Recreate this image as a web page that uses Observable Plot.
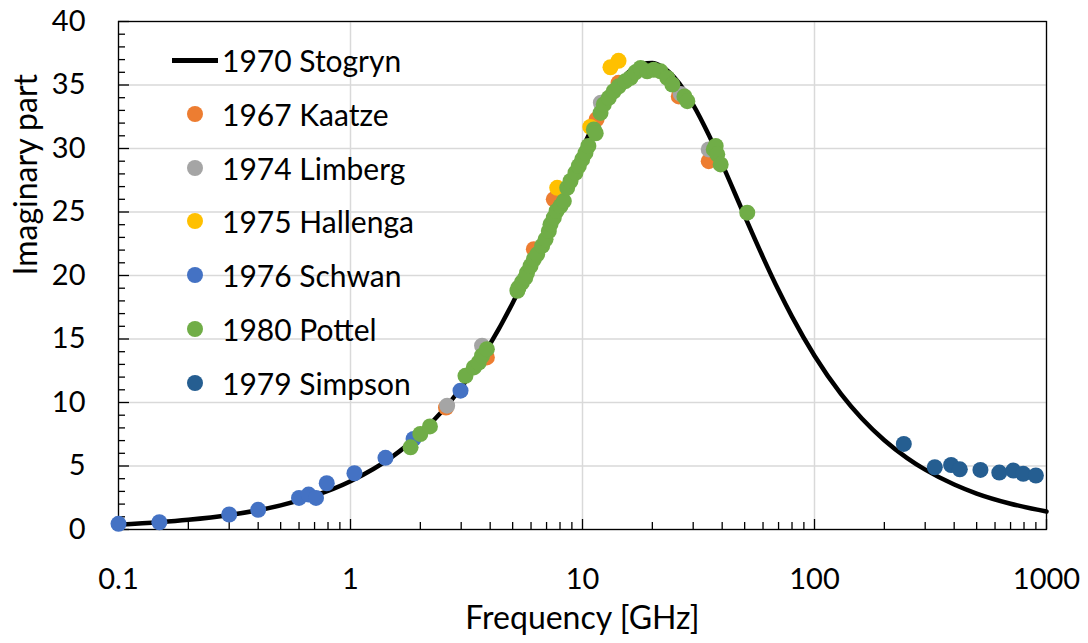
<!DOCTYPE html>
<html>
<head>
<meta charset="utf-8">
<script src="https://cdn.jsdelivr.net/npm/d3@7"></script>
<script src="https://cdn.jsdelivr.net/npm/@observablehq/plot@0.6"></script>
<style>
  html, body { margin: 0; padding: 0; background: #fff; }
  #wrap { position: relative; width: 1088px; height: 643px; font-family: Lato, "Open Sans", sans-serif; }
  #legend { position: absolute; left: 0; top: 0; }
  .row { position: absolute; left: 0; height: 40px; display: flex; align-items: center; font-size: 30px; color: #000; white-space: nowrap; }
  .sym { width: 50px; height: 40px; position: relative; margin-right: 2px; }
</style>
</head>
<body>
<div id="wrap"><div id="legend"></div></div>
<script>
// ---- Data ----
const stogrynFreq = [0.1,0.15,0.2,0.3,0.5,0.7,1,1.5,2,3,4,5,6,7,8,10,12,14,16,18,20,22,25,30,35,40,50,60,70,80,100,130,160,200,250,300,400,500,700,1000];
const stogrynVal  = [0.38,0.57,0.76,1.14,1.90,2.66,3.80,5.68,7.54,11.16,14.61,17.84,20.84,23.56,26.00,30.02,32.96,34.93,36.11,36.66,36.73,36.44,35.55,33.44,31.08,28.77,24.69,21.43,18.83,16.76,13.68,10.68,8.74,7.03,5.64,4.71,3.54,2.83,2.03,1.42];

const kaatzeFreq = [2.58,3.87,6.17,7.52,11.5,14.3,26.0,35.0];
const kaatzeVal  = [9.6,13.55,22.07,26.0,32.3,35.17,34.1,29.0];

const limbergFreq = [2.61,3.69,12.0,26.5,35.0];
const limbergVal  = [9.75,14.47,33.6,34.3,29.93];

const hallengaFreq = [7.78,10.8,13.2,14.3];
const hallengaVal  = [26.9,31.7,36.4,36.9];

const schwanFreq = [0.1,0.15,0.3,0.4,0.6,0.66,0.71,0.79,1.04,1.415,1.87,2.98];
const schwanVal  = [0.45,0.57,1.18,1.55,2.49,2.75,2.49,3.64,4.43,5.64,7.13,10.93];

const pottelFreq = [1.815,2.0,2.2,3.13,3.4,3.57,3.69,3.87,5.24,5.3,5.48,5.67,5.77,5.97,6.17,6.38,6.7,6.93,7.16,7.28,7.52,7.73,8.04,8.31,8.59,8.88,9.33,9.64,9.97,10.3,10.6,11.19,11.4,11.96,12.35,12.98,13.64,14.33,15.3,16.1,16.9,17.8,19.0,20.3,21.7,23.2,24.4,27.5,28.3,36.8,37.5,38.1,39.4,51.3];
const pottelVal  = [6.47,7.52,8.12,12.1,12.76,13.15,13.68,14.2,18.8,19.05,19.45,19.84,20.23,20.75,21.28,21.67,22.33,22.85,23.5,24.03,24.55,25.08,25.47,25.86,26.9,27.44,28.09,28.62,29.14,29.66,30.2,31.5,31.2,32.8,33.47,33.99,34.51,34.9,35.3,35.56,36.0,36.34,36.08,36.2,36.08,35.56,35.04,34.1,33.73,29.93,30.2,29.54,28.75,24.95];

const simpsonFreq = [242.6,330,388,423,519,626,719,794,900];
const simpsonVal  = [6.74,4.90,5.08,4.74,4.69,4.48,4.64,4.38,4.25];

const seriesNames  = ["1967 Kaatze","1974 Limberg","1975 Hallenga","1976 Schwan","1980 Pottel","1979 Simpson"];
const seriesColors = ["#ED7D31","#A5A5A5","#FFC000","#4472C4","#70AD47","#255E91"];
const lineName = "1970 Stogryn";

const xTickValues = [0.1,1,10,100,1000];
const xTickLabels = ["0.1","1","10","100","1000"];
const yTickValues = [0,5,10,15,20,25,30,35,40];

// ---- Build tables ----
const zip = (f, v) => f.map((x, i) => ({f: x, v: v[i]}));
const curve = zip(stogrynFreq, stogrynVal);
const pointSets = [
  zip(kaatzeFreq, kaatzeVal), zip(limbergFreq, limbergVal), zip(hallengaFreq, hallengaVal),
  zip(schwanFreq, schwanVal), zip(pottelFreq, pottelVal), zip(simpsonFreq, simpsonVal)
];
const xMinor = [];
for (const d of [0.1,1,10,100]) for (let k = 2; k <= 9; k++) xMinor.push(+(d*k).toPrecision(3));
const yMinor = d3.range(0, 41, 1).filter(v => v % 5 !== 0);

const font = "Lato, 'Open Sans', sans-serif";

const chart = Plot.plot({
  width: 1088, height: 643,
  marginLeft: 118, marginRight: 42, marginTop: 21, marginBottom: 114,
  style: {fontFamily: font, background: "#fff", color: "#000"},
  x: {type: "log", domain: [0.1, 1000]},
  y: {domain: [0, 40]},
  marks: [
    Plot.gridY(yTickValues, {stroke: "#d9d9d9", strokeOpacity: 1, strokeWidth: 1.5}),
    Plot.gridX(xTickValues, {stroke: "#d9d9d9", strokeOpacity: 1, strokeWidth: 1.5}),
    Plot.frame({stroke: "#000", strokeWidth: 1.3}),
    Plot.axisY(yTickValues, {tickSize: 0, tickPadding: 33, fontSize: 29, label: null}),
    Plot.axisY(yTickValues, {tickSize: -11, text: null, label: null, strokeWidth: 1.3}),
    Plot.axisY(yMinor, {tickSize: -7, text: null, label: null, strokeWidth: 1.3}),
    Plot.axisX(xTickValues, {tickSize: 0, tickPadding: 39, fontSize: 29, tickFormat: (d) => xTickLabels[xTickValues.indexOf(d)], label: null}),
    Plot.axisX(xTickValues, {tickSize: -10, text: null, label: null, strokeWidth: 1.3}),
    Plot.axisX(xMinor, {tickSize: -7, text: null, label: null, strokeWidth: 1.3}),
    Plot.text(["Frequency [GHz]"], {frameAnchor: "bottom", dy: 99, fontSize: 32, fill: "#000"}),
    Plot.text(["Imaginary part"], {frameAnchor: "left", dx: -92, rotate: -90, fontSize: 32, fill: "#000"}),
    Plot.line(curve, {x: "f", y: "v", stroke: "#000", strokeWidth: 4.5, curve: "monotone-x"}),
    ...pointSets.map((pts, i) => Plot.dot(pts, {x: "f", y: "v", r: 8, fill: seriesColors[i], stroke: "none"}))
  ]
});
document.getElementById("wrap").prepend(chart);

// ---- Legend (inside plot area, top-left) ----
const legend = document.getElementById("legend");
const rowTop = 40, rowStep = 53.8, left = 170;
const rows = [{name: lineName, line: true}, ...seriesNames.map((n, i) => ({name: n, color: seriesColors[i]}))];
rows.forEach((r, i) => {
  const row = document.createElement("div");
  row.className = "row";
  row.style.top = (rowTop + i*rowStep) + "px";
  row.style.left = left + "px";
  const sym = document.createElement("div");
  sym.className = "sym";
  if (r.line) {
    sym.innerHTML = '<div style="position:absolute;left:2px;top:18px;width:46px;height:4.5px;background:#000"></div>';
  } else {
    sym.innerHTML = `<div style="position:absolute;left:17px;top:12px;width:16px;height:16px;border-radius:50%;background:${r.color}"></div>`;
  }
  const txt = document.createElement("span");
  txt.textContent = r.name;
  row.appendChild(sym);
  row.appendChild(txt);
  legend.appendChild(row);
});
</script>
</body>
</html>
